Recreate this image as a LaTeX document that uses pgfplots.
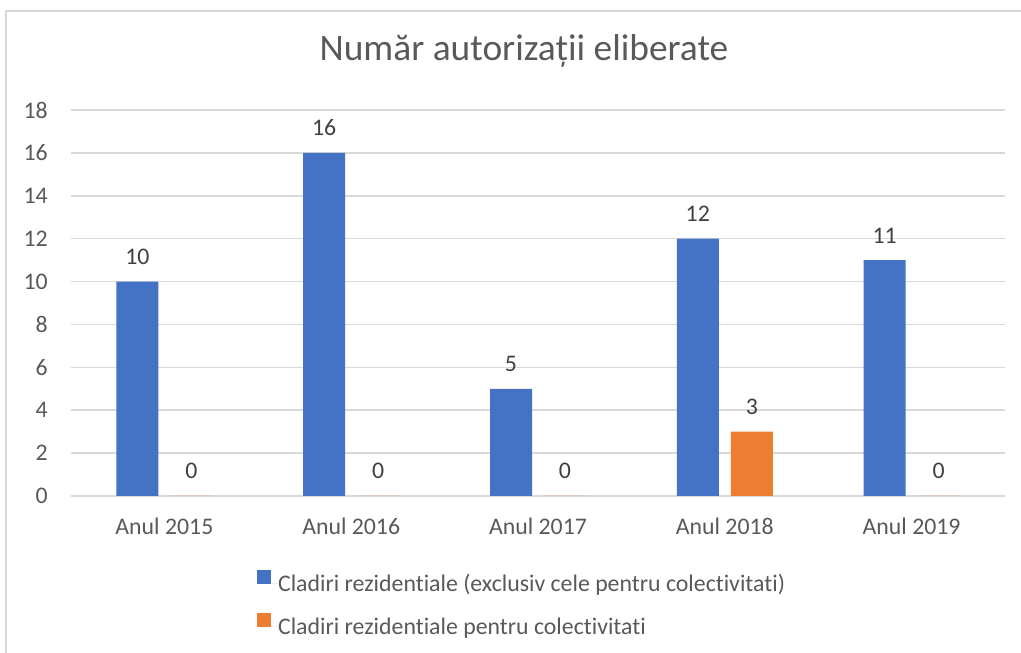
\documentclass[border=0pt]{standalone}
\usepackage{pgfplots}
\pgfplotsset{compat=1.18}
\usepackage{fontspec}
\setmainfont{Carlito}[Ligatures=NoCommon]
\definecolor{barblue}{HTML}{4472C4}
\definecolor{barorange}{HTML}{ED7D31}
\definecolor{gridgray}{HTML}{D9D9D9}
\definecolor{textgray}{HTML}{595959}
\definecolor{labelgray}{HTML}{404040}
\newcommand{\lblfont}{\fontsize{23.8}{28}\selectfont}

\begin{document}
\begin{tikzpicture}
\useasboundingbox (0pt,0pt) rectangle (1021pt,653pt);
% chart frame (only top and left edges are visible)
\draw[gridgray, line width=1.5pt] (6pt,0pt) -- (6pt,642pt) -- (1021pt,642pt);
\begin{axis}[
    at={(71pt,157pt)}, anchor=south west,
    scale only axis, width=934pt, height=386pt,
    ybar=12pt, bar width=42pt,
    xmin=-0.5, xmax=4.5, ymin=0, ymax=18,
    xtick={0,1,2,3,4},
    xticklabels={Anul 2015, Anul 2016, Anul 2017, Anul 2018, Anul 2019},
    ytick={0,2,...,18},
    /pgf/number format/assume math mode=true,
    ymajorgrids,
    grid style={draw=gridgray, line width=1.5pt},
    axis line style={draw=none},
    major tick length=0pt,
    tick label style={font=\lblfont, text=textgray},
    yticklabel style={anchor=east, inner sep=0pt, xshift=-23pt},
    xticklabel style={anchor=base, inner sep=0pt, yshift=-39pt},
    nodes near coords,
    nodes near coords style={font=\lblfont, text=labelgray, anchor=base, inner sep=0pt, yshift=17pt},
    title={Număr autorizații eliberate},
    title style={font=\fontsize{37.4}{44}\selectfont, text=textgray, anchor=base, at={(0.485,1)}, yshift=43pt, inner sep=0pt},
    clip=false,
    legend style={at={(0.199,-0.19)}, anchor=north west, draw=none, fill=none,
        font=\lblfont, text=textgray, inner sep=0pt, row sep=20pt,
        nodes={inner sep=0pt}},
    legend cell align=left,
    legend image code/.code={
        \fill[#1] (0pt,0pt) rectangle (14pt,14pt);
        \path (0pt,0pt) -- (21pt,0pt);
    },
]
\addplot[fill=barblue, draw=none] coordinates {(0,10) (1,16) (2,5) (3,12) (4,11)};
\addplot[fill=barorange, draw=none] coordinates {(0,0) (1,0) (2,0) (3,3) (4,0)};
\legend{Cladiri rezidentiale (exclusiv cele pentru colectivitati), Cladiri rezidentiale pentru colectivitati}
\end{axis}
\end{tikzpicture}
\end{document}
